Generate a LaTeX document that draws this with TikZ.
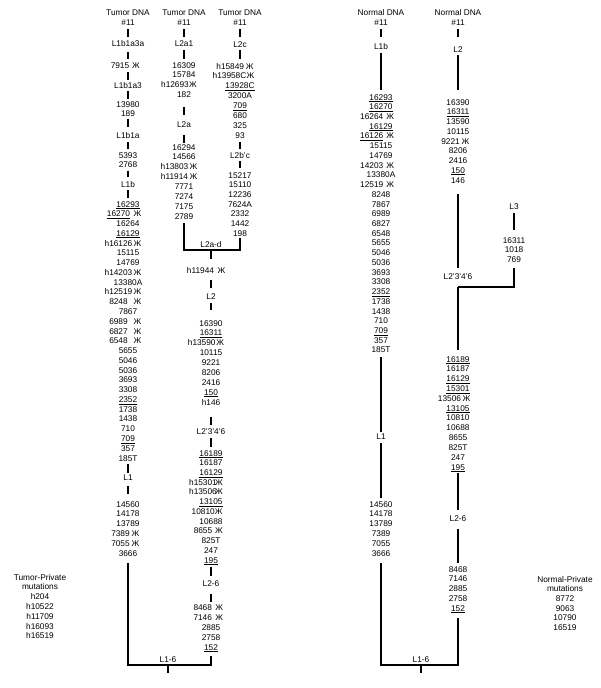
\documentclass[tikz,border=0pt]{standalone}
\usepackage{fontspec}
\setmainfont{Liberation Sans}
\tikzset{
  txt/.style={inner sep=0pt, text height=6pt, text depth=0pt, font=\fontsize{8.3}{9.8}\selectfont},
  bar/.style={line width=1.8pt, line join=miter},
}
\newsavebox\ulbox
\newcommand\ul[1]{\sbox\ulbox{#1}\rlap{\rule[-1.6pt]{\wd\ulbox}{0.5pt}}\usebox\ulbox}
\newcommand\zk[2]{\makebox[0pt][c]{#1}\hspace{#2pt}\makebox[0pt][c]{Ж}\hspace{-#2pt}}
\newcommand\mylist[5]{\foreach \itm [count=\i] in {#5} {\node[txt] (#1-\i) at (#2,{#3+(\i-1)*#4}) {\itm};}}
\newcommand\mybar[4]{\draw[bar, shorten <=#3pt, shorten >=#4pt] (#1.south) -- (#2.north);}
\begin{document}
\begin{tikzpicture}[x=1pt,y=-1pt]
\useasboundingbox (0,0) rectangle (600,688);
% ---------- Tumor column 1
\node[txt] (a-h) at (128,12.5) {Tumor DNA};
\node[txt] (a-n) at (128,22) {\#11};
\node[txt] (a-l1) at (128,43) {L1b1a3a};
\node[txt] (a-m1) at (128,65) {\zk{7915}{16}};
\node[txt] (a-l2) at (128,85) {L1b1a3};
\mylist{a-m2}{128}{104}{9.5}{13980,189}
\node[txt] (a-l3) at (128,135) {L1b1a};
\mylist{a-m3}{128}{155}{9.5}{5393,2768}
\node[txt] (a-l4) at (128,184) {L1b};
\mylist{a-m4}{128}{204}{9.77}{\ul{16293},{\zk{\ul{16270}}{19}},16264,\ul{16129},{\zk{h16126}{19}},15115,14769,{\zk{h14203}{19}},13380A,{\zk{h12519}{19}},{\zk{8248}{19}},7867,{\zk{6989}{19}},{\zk{6827}{19}},{\zk{6548}{19}},5655,5046,5036,3693,3308,\ul{2352},1738,1438,710,\ul{709},357,185T}
\node[txt] (a-l5) at (128,477) {L1};
\mylist{a-m5}{128}{504}{9.8}{14560,14178,13789,{\zk{7389}{15}},{\zk{7055}{15}},3666}
\mybar{a-n}{a-l1}{4}{3}
\mybar{a-l1}{a-m1}{6}{3}
\mybar{a-m1}{a-l2}{4}{2}
\mybar{a-l2}{a-m2-1}{3}{2}
\mybar{a-m2-2}{a-l3}{2}{5}
\mybar{a-l3}{a-m3-1}{4}{3}
\mybar{a-m3-2}{a-l4}{3}{4}
\mybar{a-l4}{a-m4-1}{3}{3}
\mybar{a-m4-27}{a-l5}{3}{1}
\mybar{a-l5}{a-m5-1}{6}{7}
% ---------- Tumor column 2 (upper)
\node[txt] (b-h) at (184,12.5) {Tumor DNA};
\node[txt] (b-n) at (184,22) {\#11};
\node[txt] (b-l1) at (184,43) {L2a1};
\mylist{b-m1}{184}{65}{9.67}{16309,15784,{\zk{h12693}{18}},182}
\node[txt] (b-l2) at (184,124) {L2a};
\mylist{b-m2}{184}{147}{9.86}{16294,14566,{\zk{h13803}{19}},{\zk{h11914}{19}},7771,7274,7175,2789}
\mybar{b-n}{b-l1}{4}{3}
\mybar{b-l1}{b-m1-1}{4}{3}
\mybar{b-m1-4}{b-l2}{10}{6}
\mybar{b-l2}{b-m2-1}{8}{1}
% ---------- Tumor column 3
\node[txt] (c-h) at (240,12.5) {Tumor DNA};
\node[txt] (c-n) at (240,22) {\#11};
\node[txt] (c-l1) at (240,44) {L2c};
\mylist{c-m1}{240}{66}{9.86}{{\zk{h15849}{19.5}},{\zk{h13958C}{21}},\ul{13928C},3200A,\ul{709},680,325,93}
\node[txt] (c-l2) at (240,155) {L2b'c};
\mylist{c-m2}{240}{175}{9.67}{15217,15110,12236,7624A,2332,1442,198}
\mybar{c-n}{c-l1}{4}{4}
\mybar{c-l1}{c-m1-1}{3}{4}
\mybar{c-m1-8}{c-l2}{4}{3}
\mybar{c-l2}{c-m2-1}{3}{4}
% ---------- merge L2a-d
\coordinate (jad) at (211,250);
\node[txt] (d-l0) at (211,244) {L2a-d};
\draw[bar, shorten <=4pt, shorten >=2pt] (b-m2-8.south) |- (jad) -| (c-m2-7.south);
% ---------- Tumor column 2 (lower)
\node[txt] (d-l1) at (211,270) {\zk{h11944}{21}};
\node[txt] (d-l2) at (211,296) {L2};
\mylist{d-m1}{211}{323}{9.875}{16390,\ul{16311},{\zk{h13590}{18.5}},10115,9221,8206,2416,\ul{150},h146}
\node[txt] (d-l3) at (211,431) {L2'3'4'6};
\mylist{d-m2}{211}{453}{9.73}{\ul{16189},16187,\ul{16129},{\zk{h15301}{16}},{\zk{h13506}{16}},\ul{13105},{\zk{10810}{15.5}},10688,{\zk{8655}{16}},825T,247,\ul{195}}
\node[txt] (d-l4) at (211,583) {L2-6};
\mylist{d-m3}{211}{607}{10}{{\zk{8468}{16.5}},{\zk{7146}{16.5}},2885,2758,\ul{152}}
\draw[bar, shorten >=8pt] (jad) -- (d-l1.north);
\mybar{d-l1}{d-l2}{7}{5}
\mybar{d-l2}{d-m1-1}{4}{10}
\mybar{d-m1-9}{d-l3}{12}{3}
\mybar{d-l3}{d-m2-1}{4}{3}
\mybar{d-m2-12}{d-l4}{4}{4}
\mybar{d-l4}{d-m3-1}{8}{2}
% ---------- Tumor L1-6
\coordinate (j1) at (168,665);
\coordinate (r1) at (168,673);
\node[txt] (e-l) at (168,659.5) {L1-6};
\draw[bar, shorten <=7pt, shorten >=6pt] (a-m5-6.south) |- (j1) -| (d-m3-5.south);
\draw[bar] (j1) -- (r1);
% ---------- Normal column 1
\node[txt] (n-h) at (381,12.5) {Normal DNA};
\node[txt] (n-n) at (381,22) {\#11};
\node[txt] (n-l1) at (381,46) {L1b};
\mylist{n-m1}{381}{97}{9.73}{\ul{16293},\ul{16270},{\zk{16264}{18.5}},\ul{16129},{\zk{\ul{16126}}{18.5}},15115,14769,{\zk{14203}{18.5}},13380A,{\zk{12519}{18.5}},8248,7867,6989,6827,6548,5655,5046,5036,3693,3308,\ul{2352},1738,1438,710,\ul{709},357,185T}
\node[txt] (n-l2) at (381,436) {L1};
\mylist{n-m2}{381}{504}{9.8}{14560,14178,13789,7389,7055,3666}
\mybar{n-n}{n-l1}{4}{6}
\mybar{n-l1}{n-m1-1}{4}{4}
\mybar{n-m1-27}{n-l2}{4}{1}
\mybar{n-l2}{n-m2-1}{4}{3}
% ---------- Normal column 2
\node[txt] (p-h) at (458,12.5) {Normal DNA};
\node[txt] (p-n) at (458,22) {\#11};
\node[txt] (p-l1) at (458,49) {L2};
\mylist{p-m1}{458}{102}{9.75}{16390,\ul{16311},13590,10115,{\zk{9221}{15}},8206,2416,\ul{150},146}
\node[txt] (p-l2) at (458,276) {L2'3'4'6};
\coordinate (jn) at (458,287);
\mylist{p-m2}{458}{359}{9.82}{\ul{16189},16187,\ul{16129},\ul{15301},{\zk{13506}{17}},\ul{13105},10810,10688,8655,825T,247,\ul{195}}
\node[txt] (p-l3) at (458,518) {L2-6};
\mylist{p-m3}{458}{569}{9.75}{8468,7146,2885,2758,\ul{152}}
\mybar{p-n}{p-l1}{4}{9}
\mybar{p-l1}{p-m1-1}{3}{9}
\mybar{p-m1-9}{p-l2}{11}{5}
\draw[bar, shorten >=6pt] (jn) -- (p-m2-1.north);
\mybar{p-m2-12}{p-l3}{3}{5}
\mybar{p-l3}{p-m3-1}{8}{3}
% ---------- L3
\node[txt] (q-l1) at (514,206) {L3};
\mylist{q-m1}{514}{240}{9.5}{16311,1018,769}
\mybar{q-l1}{q-m1-1}{4}{7}
\draw[bar, shorten >=6pt] (jn) -| (q-m1-3.south);
% ---------- Normal L1-6
\coordinate (j2) at (421,665);
\coordinate (r2) at (421,673);
\node[txt] (f-l) at (421,659.5) {L1-6};
\draw[bar, shorten <=7pt, shorten >=7pt] (n-m2-6.south) |- (j2) -| (p-m3-5.south);
\draw[bar] (j2) -- (r2);
% ---------- private mutations
\mylist{tp}{40}{577}{9.8}{Tumor-Private,mutations,h204,h10522,h11709,h16093,h16519}
\mylist{np}{565}{579}{9.7}{Normal-Private,mutations,8772,9063,10790,16519}
\end{tikzpicture}
\end{document}
